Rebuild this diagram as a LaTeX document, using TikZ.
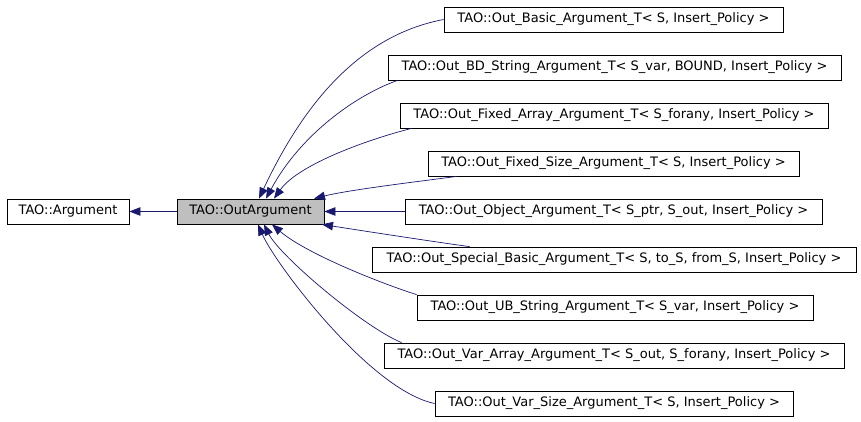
\documentclass[tikz,border=0pt]{standalone}
\usepackage{fontspec}
\setmainfont{DejaVu Sans}
\usetikzlibrary{arrows.meta}
\definecolor{edgeblue}{HTML}{191970}
\definecolor{boxgray}{HTML}{BFBFBF}
\begin{document}
\begin{tikzpicture}[x=1pt,y=-1pt,
  cls/.style={draw=black, line width=0.8pt, rectangle, inner sep=0pt, minimum height=25pt,
    font=\fontsize{13}{15}\selectfont, anchor=center},
  inh/.style={draw=edgeblue, line width=0.7pt, -{Triangle[length=11pt,width=8.5pt]}, edgeblue}]
\useasboundingbox (0,0) rectangle (861,421);
\node[cls, minimum width=122pt] (A) at (68,211.5) {TAO::Argument};
\node[cls, fill=boxgray, minimum width=147pt] (O) at (250.5,211.5) {TAO::OutArgument};
\node[cls, minimum width=339pt] (c1) at (613.5,19.5) {TAO::Out\_Basic\_Argument\_T< S, Insert\_Policy >};
\node[cls, minimum width=453pt] (c2) at (614.5,67.5) {TAO::Out\_BD\_String\_Argument\_T< S\_var, BOUND, Insert\_Policy >};
\node[cls, minimum width=428pt] (c3) at (614,115.5) {TAO::Out\_Fixed\_Array\_Argument\_T< S\_forany, Insert\_Policy >};
\node[cls, minimum width=371pt] (c4) at (613.5,163.5) {TAO::Out\_Fixed\_Size\_Argument\_T< S, Insert\_Policy >};
\node[cls, minimum width=417pt] (c5) at (613.5,211.5) {TAO::Out\_Object\_Argument\_T< S\_ptr, S\_out, Insert\_Policy >};
\node[cls, minimum width=484pt] (c6) at (614,259.5) {TAO::Out\_Special\_Basic\_Argument\_T< S, to\_S, from\_S, Insert\_Policy >};
\node[cls, minimum width=396pt] (c7) at (615,307.5) {TAO::Out\_UB\_String\_Argument\_T< S\_var, Insert\_Policy >};
\node[cls, minimum width=460pt] (c8) at (614,355.5) {TAO::Out\_Var\_Array\_Argument\_T< S\_out, S\_forany, Insert\_Policy >};
\node[cls, minimum width=358pt] (c9) at (614,403.5) {TAO::Out\_Var\_Size\_Argument\_T< S, Insert\_Policy >};
% edges
\draw[inh] (O.west) -- (A.east);
\draw[inh] (c1.west) .. controls +(-90,17) and +(40,-85) .. ([xshift=8.5pt]O.north);
\draw[inh] ([xshift=10pt]c2.south west) .. controls +(-40,14) and +(35,-65) .. ([xshift=15.5pt]O.north);
\draw[inh] ([xshift=12pt]c3.south west) .. controls +(-40,10) and +(25,-35) .. ([xshift=23.5pt]O.north);
\draw[inh] ([xshift=29pt]c4.south west) .. controls +(-37,5) and +(36,-9) .. ([xshift=63.5pt]O.north);
\draw[inh] (c5.west) -- (O.east);
\draw[inh] ([xshift=98pt]c6.north west) .. controls +(-30,-4) and +(38,6) .. ([xshift=71.5pt]O.south);
\draw[inh] (c7.north west) .. controls +(-32,-10) and +(35,30) .. ([xshift=21.5pt]O.south);
\draw[inh] ([xshift=18pt]c8.north west) .. controls +(-37,-15) and +(16,32) .. ([xshift=13.5pt]O.south);
\draw[inh] (c9.west) .. controls +(-65,-13.5) and +(17,39) .. ([xshift=7.5pt]O.south);
\end{tikzpicture}
\end{document}
